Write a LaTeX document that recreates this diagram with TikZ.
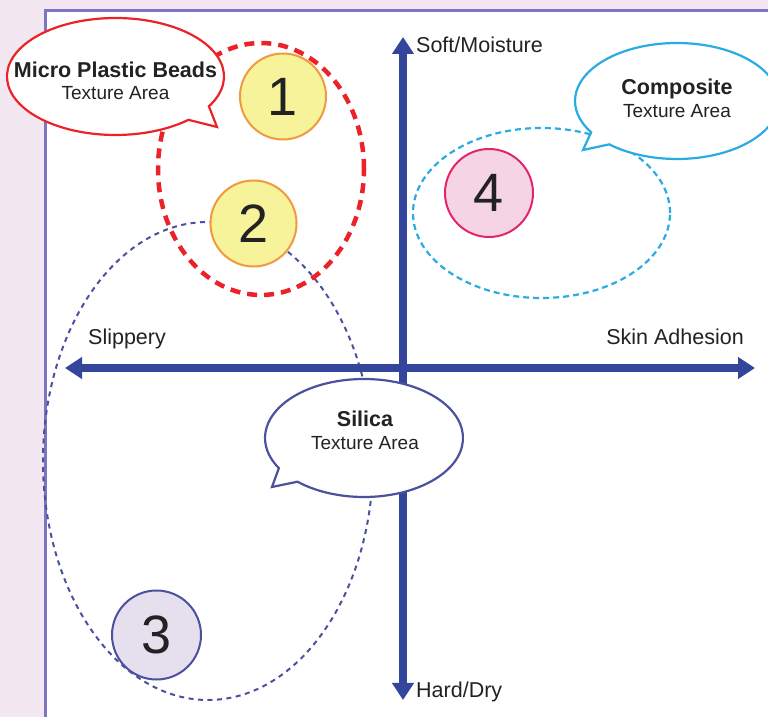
\documentclass[tikz,border=0pt]{standalone}
\usepackage{fontspec}
\setmainfont{Liberation Sans}
\usetikzlibrary{arrows.meta,shapes.geometric}
\definecolor{bgl}{HTML}{F3E8F2}
\definecolor{frame}{HTML}{7D76BE}
\definecolor{axisc}{HTML}{34469B}
\definecolor{redc}{HTML}{EC2229}
\definecolor{silc}{HTML}{4B509F}
\definecolor{compc}{HTML}{2AABE2}
\definecolor{yelf}{HTML}{F7F39B}
\definecolor{orac}{HTML}{F09A3E}
\definecolor{lavf}{HTML}{E5DFEE}
\definecolor{pinkf}{HTML}{F5D5E5}
\definecolor{pinkc}{HTML}{E3266B}
\definecolor{txt}{HTML}{222222}
\tikzset{
  axisline/.style={line width=8.5pt, color=axisc, {Triangle[length=17pt,width=21pt]}-{Triangle[length=17pt,width=21pt]}},
  axislabel/.style={inner sep=0pt, text=txt, font=\fontsize{21.5}{24}\selectfont},
  titletext/.style={inner sep=0pt, text=txt, anchor=base, font=\fontsize{21.5}{24}\selectfont\bfseries},
  subtext/.style={inner sep=0pt, text=txt, anchor=base, font=\fontsize{19}{22}\selectfont},
  numcircle/.style={circle, line width=2pt, inner sep=0pt, minimum size=#1, text=txt, font=\fontsize{54}{60}\selectfont},
  zone/.style={ellipse, inner sep=0pt},
  bubble/.style={line width=2.2pt, fill=white}
}
\begin{document}
\begin{tikzpicture}[x=1pt,y=1pt]
\useasboundingbox (0,0) rectangle (768,717);
\fill[bgl] (0,0) rectangle (768,717);
\filldraw[fill=white, draw=frame, line width=3pt] (45,-5) -- (45,706.5) -- (775,706.5) -- (775,-5) -- cycle;

% zones
\node[zone, draw=silc, line width=2pt, dash pattern=on 5pt off 4.5pt, minimum width=330pt, minimum height=478pt] (silzone) at (208,256) {};
\node[zone, draw=compc, line width=2.2pt, dash pattern=on 6pt off 4pt, minimum width=257pt, minimum height=170pt] (compzone) at (541.5,504) {};
\node[zone, draw=redc, line width=4.5pt, dash pattern=on 10pt off 7pt, minimum width=206pt, minimum height=252pt] (redzone) at (261,548) {};

% axes
\coordinate (xl) at (65,349);
\coordinate (xr) at (755,349);
\coordinate (yt) at (403,680);
\coordinate (yb) at (403,17);
\draw[axisline] (xl) -- (xr);
\draw[axisline] (yb) -- (yt);
\node[axislabel, anchor=base west] (soft) at (416,664) {Soft/Moisture};
\node[axislabel, anchor=base west] (slip) at (88,372) {Slippery};
\node[axislabel, anchor=base east] (skin) at (744,372) {Skin Adhesion};
\node[axislabel, anchor=base west] (hard) at (416,19) {Hard/Dry};

% numbered circles
\node[numcircle=86pt, draw=orac, fill=yelf] (n1) at (283,620.5) {1};
\node[numcircle=86pt, draw=orac, fill=yelf] (n2) at (253.5,493.5) {2};
\node[numcircle=89pt, draw=silc, fill=lavf] (n3) at (156.5,82) {3};
\node[numcircle=88pt, draw=pinkc, fill=pinkf] (n4) at (489,524) {4};

% bubbles
\coordinate (mpbc) at (115.5,640.5);
\coordinate (mpbtip) at (217,590);
\draw[bubble, draw=redc] ([shift={(-30.6:108.5 and 58.5)}]mpbc) arc[start angle=-30.6, end angle=312.2, x radius=108.5, y radius=58.5] -- (mpbtip) -- cycle;
\node[titletext] (mpbT) at (115.5,639) {Micro Plastic Beads};
\node[subtext] (mpbS) at (115.5,617) {Texture Area};

\coordinate (silc0) at (364,279);
\coordinate (siltip) at (272,230);
\draw[bubble, draw=silc] ([shift={(227.8:99 and 59)}]silc0) arc[start angle=227.8, end angle=570.7, x radius=99, y radius=59] -- (siltip) -- cycle;
\node[titletext] (silT) at (365,290) {Silica};
\node[subtext] (silS) at (365,267) {Texture Area};

\coordinate (compc0) at (677,616);
\coordinate (comptip) at (583,567);
\draw[bubble, draw=compc] ([shift={(228.4:102 and 58)}]compc0) arc[start angle=228.4, end angle=572.7, x radius=102, y radius=58] -- (comptip) -- cycle;
\node[titletext] (compT) at (677,622) {Composite};
\node[subtext] (compS) at (677,599) {Texture Area};
\end{tikzpicture}
\end{document}
